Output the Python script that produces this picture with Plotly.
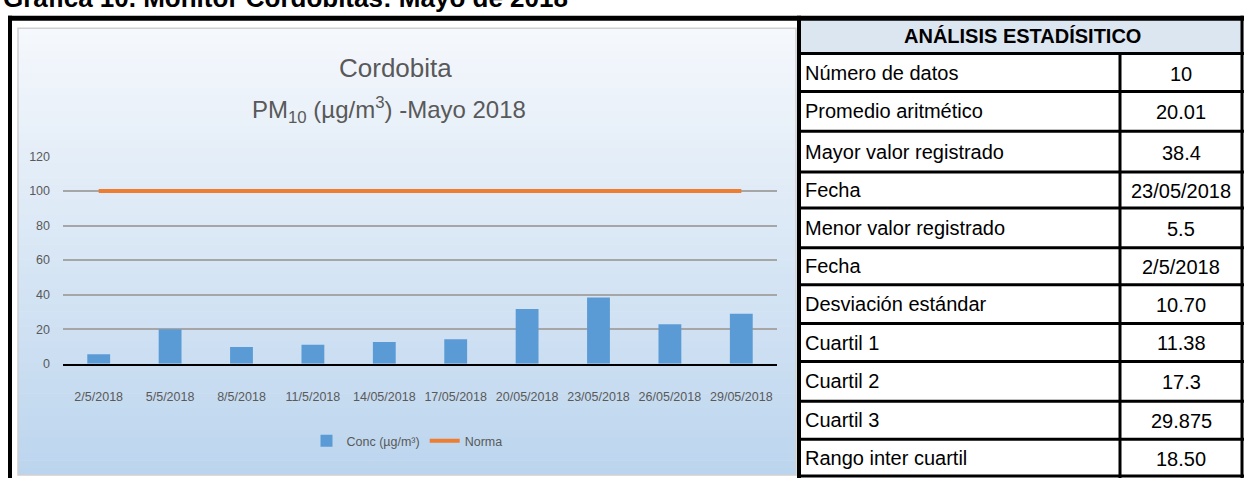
import plotly.graph_objects as go

# ---------------- data ----------------
fechas = ["2/5/2018", "5/5/2018", "8/5/2018", "11/5/2018", "14/05/2018",
          "17/05/2018", "20/05/2018", "23/05/2018", "26/05/2018", "29/05/2018"]
conc = [5.5, 20.0, 9.6, 11.0, 12.5, 14.1, 31.7, 38.4, 22.9, 28.9]
norma = [100, 100, 100, 100, 100, 100, 100, 100, 100, 100]
y_ticks = [0, 20, 40, 60, 80, 100, 120]

stat_labels = ["Número de datos", "Promedio aritmético", "Mayor valor registrado", "Fecha",
               "Menor valor registrado", "Fecha", "Desviación estándar", "Cuartil 1",
               "Cuartil 2", "Cuartil 3", "Rango inter cuartil"]
stat_values = ["10", "20.01", "38.4", "23/05/2018", "5.5", "2/5/2018", "10.70",
               "11.38", "17.3", "29.875", "18.50"]

# ---------------- layout helpers ----------------
W, H = 1244, 485
def px(x): return x / W
def py(y): return 1 - y / H

SANS = "Liberation Sans, Arial, sans-serif"
GRAY = "#595959"

fig = go.Figure()
fig.add_trace(go.Bar(x=fechas, y=conc, name="Conc (µg/m³)", marker_color="#5B9BD5",
                     marker_line_width=0, width=0.32))
fig.add_trace(go.Scatter(x=fechas, y=norma, name="Norma", mode="lines",
                         line=dict(color="#ED7D31", width=4)))

shapes = []
# gradient background of chart area
top, bot = 22, 482
c0 = (0xF5, 0xF8, 0xFC)
c1 = (0xBC, 0xD5, 0xEE)
n = 60
for i in range(n):
    t = (i + 0.5) / n
    col = tuple(round(c0[k] + (c1[k] - c0[k]) * t) for k in range(3))
    y0 = top + (bot - top) * i / n
    y1 = top + (bot - top) * (i + 1) / n + 0.6
    shapes.append(dict(type="rect", xref="paper", yref="paper", layer="below",
                       x0=px(18), x1=px(796), y0=py(y0), y1=py(min(y1, bot)),
                       fillcolor="rgb(%d,%d,%d)" % col, line_width=0))
# chart border
shapes.append(dict(type="rect", xref="paper", yref="paper", layer="below",
                   x0=px(18), x1=px(796), y0=py(bot), y1=py(top),
                   line=dict(color="#d0d0d0", width=1.5)))

# table header background
shapes.append(dict(type="rect", xref="paper", yref="paper", layer="below",
                   x0=px(800), x1=px(1244), y0=py(48), y1=py(12),
                   fillcolor="#DCE6F1", line_width=0))
shapes.append(dict(type="rect", xref="paper", yref="paper", layer="below",
                   x0=px(800), x1=px(1244), y0=py(485), y1=py(48),
                   fillcolor="white", line_width=0))

def hline(y, x0, x1, w=3, c="black"):
    shapes.append(dict(type="line", xref="paper", yref="paper", x0=px(x0), x1=px(x1),
                       y0=py(y), y1=py(y), line=dict(color=c, width=w)))
def vline(x, y0, y1, w=3, c="black"):
    shapes.append(dict(type="line", xref="paper", yref="paper", x0=px(x), x1=px(x),
                       y0=py(y0), y1=py(y1), line=dict(color=c, width=w)))

# outer frame
hline(11.5, 8, 1244, w=5)
vline(10, 9, 485, w=4)
vline(799, 9, 485, w=4)
vline(1242, 9, 485, w=3)

row_edges = [48, 87, 128, 170, 207, 248, 286, 326, 365, 406, 445, 483]
for i, y in enumerate(row_edges):
    hline(y, 800, 1244, w=3)
vline(1120, 48, 485, w=3)

annotations = []
# top caption (partially cut at the top edge, as in the reference)
annotations.append(dict(text="<b>Grafica 10. Monitor Cordobitas: Mayo de 2018</b>",
                        xref="paper", yref="paper", x=px(1), y=py(-9), xanchor="left",
                        yanchor="middle", showarrow=False,
                        font=dict(family=SANS, size=26, color="black")))
# chart title
annotations.append(dict(text="Cordobita", xref="paper", yref="paper", x=px(395), y=py(63),
                        xanchor="center", yanchor="middle", showarrow=False,
                        font=dict(family=SANS, size=26, color=GRAY)))
annotations.append(dict(text="PM<sub>10</sub> (µg/m<sup>3</sup>) -Mayo 2018", xref="paper",
                        yref="paper", x=px(389), y=py(106), xanchor="center", yanchor="middle",
                        showarrow=False, font=dict(family=SANS, size=24, color=GRAY)))
# table header
annotations.append(dict(text="<b>ANÁLISIS ESTADÍSITICO</b>", xref="paper", yref="paper",
                        x=px(1022), y=py(30), xanchor="center", yanchor="middle",
                        showarrow=False, font=dict(family=SANS, size=20, color="black")))
for i, (lab, val) in enumerate(zip(stat_labels, stat_values)):
    yc = (row_edges[i] + row_edges[i + 1]) / 2
    annotations.append(dict(text=lab, xref="paper", yref="paper", x=px(803), y=py(yc),
                            xanchor="left", yanchor="middle", showarrow=False,
                            font=dict(family=SANS, size=20, color="black")))
    annotations.append(dict(text=val, xref="paper", yref="paper", x=px(1181), y=py(yc + 1),
                            xanchor="center", yanchor="middle", showarrow=False,
                            font=dict(family=SANS, size=20, color="black")))

fig.update_layout(
    width=W, height=H,
    margin=dict(l=0, r=0, t=0, b=0),
    paper_bgcolor="white",
    plot_bgcolor="rgba(0,0,0,0)",
    shapes=shapes,
    annotations=annotations,
    bargap=0.68,
    showlegend=True,
    legend=dict(orientation="h", x=px(407), xanchor="center", y=py(447), yanchor="middle",
                font=dict(family=SANS, size=12.5, color=GRAY), bgcolor="rgba(0,0,0,0)",
                itemwidth=30),
    xaxis=dict(domain=[px(63), px(777)], type="category", range=[-0.5, 9.5],
               showgrid=False, showline=True, linecolor="black", linewidth=2,
               ticks="", tickfont=dict(family=SANS, size=12.5, color=GRAY),
               ticklabelstandoff=20, tickangle=0),
    yaxis=dict(domain=[py(367.3), py(154)], range=[0, 120], tickvals=y_ticks,
               showgrid=True, gridcolor="#a6a6a6", gridwidth=1.5, zeroline=False,
               showline=False, ticks="", tickfont=dict(family=SANS, size=12.5, color=GRAY),
               ticklabelstandoff=12),
)

fig.write_html("out.html", config={"displayModeBar": False},
               post_script="document.body.style.margin='0px';document.body.style.overflow='hidden';")
